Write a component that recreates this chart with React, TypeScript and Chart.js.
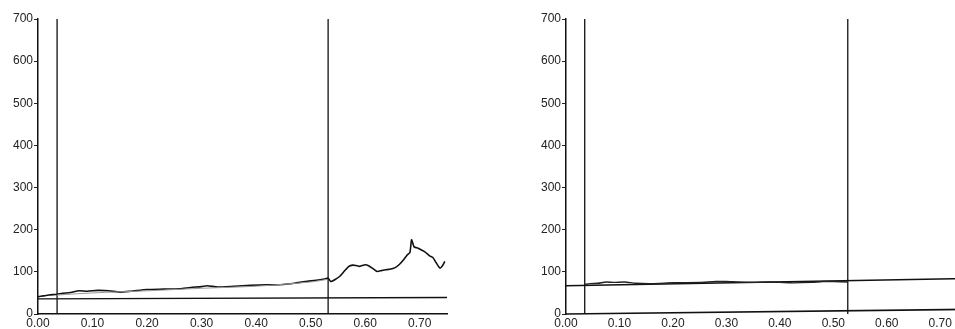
import React, { useEffect, useRef } from "react";
import { Chart, registerables } from "chart.js";

Chart.register(...registerables);

// ---- Left panel data ----
const leftCurveX = [0, 0.01, 0.02, 0.035, 0.045, 0.06, 0.075, 0.09, 0.11, 0.13, 0.15, 0.17, 0.2, 0.23, 0.26, 0.28, 0.3, 0.31, 0.33, 0.36, 0.39, 0.42, 0.45, 0.47, 0.49, 0.51, 0.525, 0.532, 0.537, 0.545, 0.553, 0.562, 0.57, 0.577, 0.583, 0.59, 0.6, 0.607, 0.615, 0.622, 0.63, 0.637, 0.645, 0.655, 0.663, 0.67, 0.677, 0.682, 0.685, 0.688, 0.69, 0.697, 0.703, 0.71, 0.718, 0.724, 0.73, 0.737, 0.742, 0.746];
const leftCurveY = [41, 43, 45, 47, 49, 51, 55, 54, 56, 55, 52, 54, 58, 59, 60, 63, 65, 67, 64, 66, 68, 69, 70, 73, 77, 80, 83, 85, 77, 82, 89, 102, 113, 116, 115, 113, 117, 114, 107, 101, 103, 105, 106, 110, 118, 128, 140, 146, 176, 165, 159, 156, 152, 147, 138, 134, 122, 109, 115, 125];
const leftShadowX = [0.035, 0.1, 0.2, 0.3, 0.4, 0.5, 0.53];
const leftShadowY = [45, 50, 55, 61, 66, 76, 82];
const leftBaseX = [0, 0.75];
const leftBaseY = [36, 39];
const leftMarkers = [0.035, 0.532];

// ---- Right panel data ----
const rightCurveX = [0.035, 0.045, 0.06, 0.075, 0.09, 0.11, 0.13, 0.16, 0.2, 0.25, 0.28, 0.3, 0.32, 0.35, 0.38, 0.42, 0.46, 0.48, 0.5, 0.527];
const rightCurveY = [70, 72, 73, 76, 75, 76, 73, 72, 74, 75, 77, 77, 76, 75, 76, 74, 75, 77, 77, 76];
const rightBaseX = [0, 0.75];
const rightBaseY = [67, 84];
const rightAxisX = [0, 0.75];
const rightAxisY = [0, 11];
const rightMarkers = [0.035, 0.527];

// ---- Axis ticks ----
const yTicks = [0, 100, 200, 300, 400, 500, 600, 700];
const xTicks = [0, 0.1, 0.2, 0.3, 0.4, 0.5, 0.6, 0.7];

const toPts = (xs: number[], ys: number[]) => xs.map((x, i) => ({ x, y: ys[i] }));

const FONT = { family: "'Liberation Sans', Arial, sans-serif", size: 12 };

function makeConfig(
  datasets: any[],
  markers: number[],
  hideXBorder: boolean,
  rightPad: number
): any {
  const markerSets = markers.map((m) => ({
    data: [{ x: m, y: 0 }, { x: m, y: 700 }],
    borderColor: "#111",
    borderWidth: 1.3,
    pointRadius: 0,
    fill: false,
  }));
  return {
    type: "line",
    data: { datasets: [...datasets, ...markerSets] },
    options: {
      animation: false,
      responsive: false,
      events: [],
      layout: { padding: { top: 19, left: 0, right: rightPad, bottom: 0 } },
      plugins: { legend: { display: false }, tooltip: { enabled: false } },
      elements: { line: { tension: 0.3 } },
      scales: {
        x: {
          type: "linear",
          min: 0,
          max: 0.75,
          afterBuildTicks: (s: any) => {
            s.ticks = xTicks.map((v) => ({ value: v }));
          },
          afterFit: (s: any) => {
            s.height = 15;
          },
          ticks: {
            color: "#222",
            font: FONT,
            padding: 2,
            maxRotation: 0,
            autoSkip: false,
            callback: (v: any) => Number(v).toFixed(2),
          },
          grid: { display: true, drawOnChartArea: false, drawTicks: false },
          border: { display: !hideXBorder, color: "#111", width: 1.5 },
        },
        y: {
          type: "linear",
          min: 0,
          max: 700,
          afterBuildTicks: (s: any) => {
            s.ticks = yTicks.map((v) => ({ value: v }));
          },
          afterFit: (s: any) => {
            s.width = 38;
          },
          ticks: { color: "#222", font: FONT, padding: 1 },
          grid: { drawOnChartArea: false, drawTicks: true, tickLength: 4, color: "#222" },
          border: { display: true, color: "#111", width: 1.5 },
        },
      },
    },
  };
}

function Panel({ left, width, config }: { left: number; width: number; config: any }) {
  const ref = useRef<HTMLCanvasElement | null>(null);
  useEffect(() => {
    if (!ref.current) return;
    const chart = new Chart(ref.current, config);
    return () => chart.destroy();
  }, []);
  return (
    <canvas
      ref={ref}
      width={width}
      height={329}
      style={{ position: "absolute", left, top: 0, width, height: 329 }}
    />
  );
}

export default function App() {
  const leftConfig = makeConfig(
    [
      {
        data: toPts(leftShadowX, leftShadowY),
        borderColor: "#9a9a9a",
        borderWidth: 1,
        pointRadius: 0,
      },
      {
        data: toPts(leftCurveX, leftCurveY),
        borderColor: "#111",
        borderWidth: 1.6,
        pointRadius: 0,
        tension: 0.2,
      },
      {
        data: toPts(leftBaseX, leftBaseY),
        borderColor: "#111",
        borderWidth: 1.4,
        pointRadius: 0,
        tension: 0,
      },
    ],
    leftMarkers,
    false,
    23
  );
  const rightConfig = makeConfig(
    [
      {
        data: toPts(rightCurveX, rightCurveY),
        borderColor: "#222",
        borderWidth: 1.4,
        pointRadius: 0,
        tension: 0.2,
      },
      {
        data: toPts(rightBaseX, rightBaseY),
        borderColor: "#111",
        borderWidth: 1.5,
        pointRadius: 0,
        tension: 0,
      },
      {
        data: toPts(rightAxisX, rightAxisY),
        borderColor: "#111",
        borderWidth: 1.6,
        pointRadius: 0,
        tension: 0,
        clip: 4,
      },
    ],
    rightMarkers,
    true,
    21
  );
  return (
    <div
      style={{
        position: "fixed",
        left: 0,
        top: 0,
        width: 955,
        height: 329,
        overflow: "hidden",
        background: "#fff",
      }}
    >
      <Panel left={0} width={470} config={leftConfig} />
      <Panel left={528} width={460} config={rightConfig} />
    </div>
  );
}
